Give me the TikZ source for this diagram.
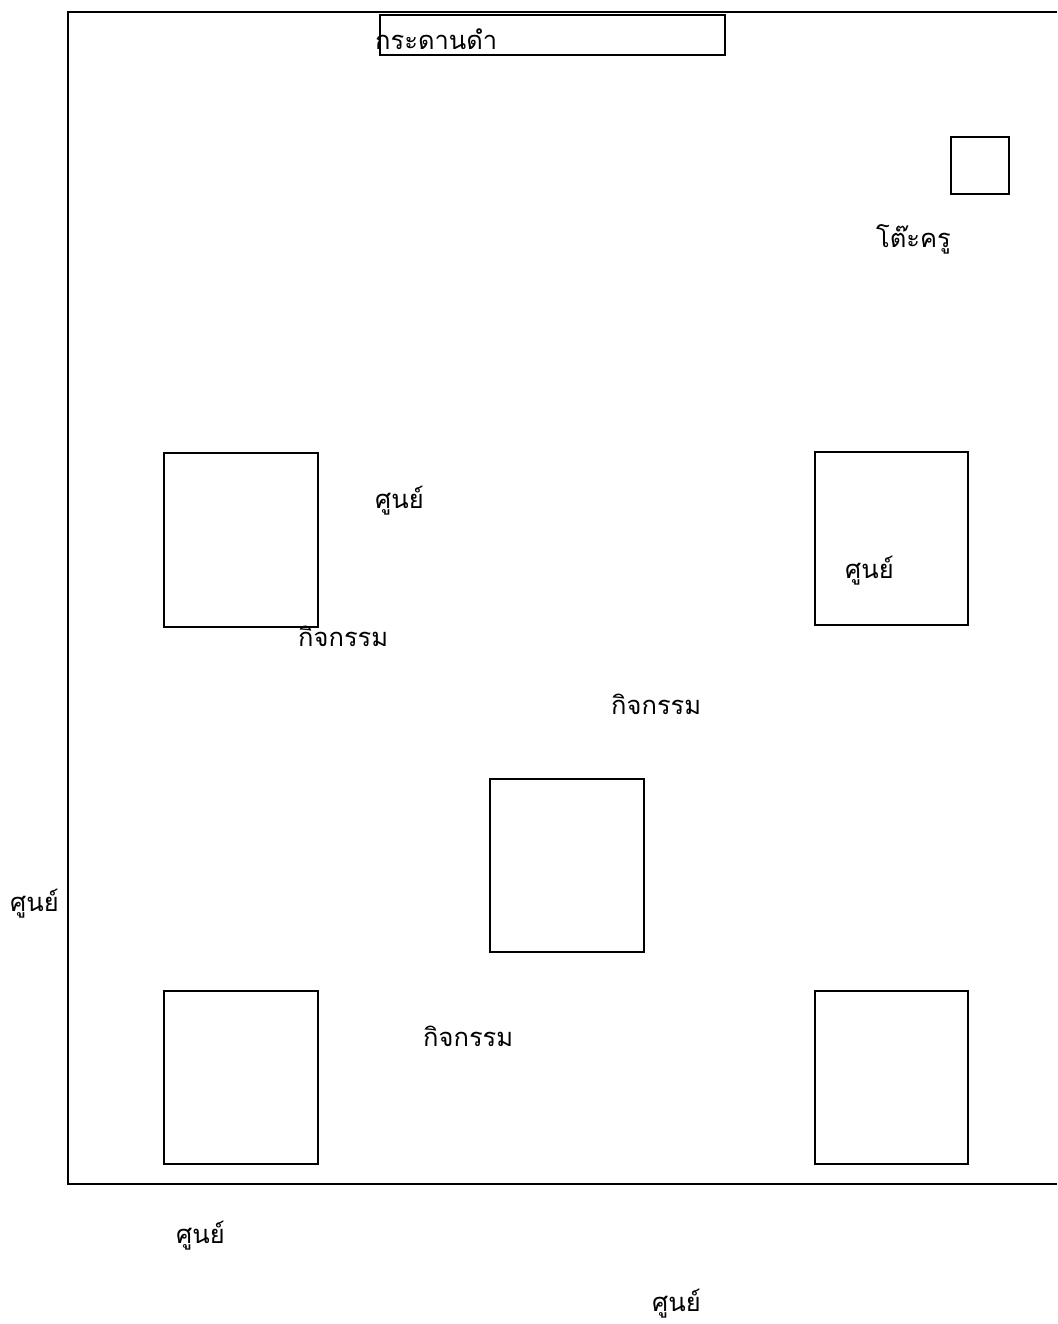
\documentclass[tikz,border=0pt]{standalone}
\usepackage{fontspec}
\newfontfamily\thaifont[Script=Thai]{Loma}
\begin{document}
\begin{tikzpicture}[x=1pt,y=-1pt,
  box/.style={draw=black,line width=1.3pt},
  lbl/.style={anchor=west,inner sep=0pt,font=\thaifont\fontsize{25.5}{30}\selectfont}]
\useasboundingbox (0,0) rectangle (1057,1324);
% room outline (right side open / cut off)
\draw[line width=1.5pt] (1057,12) -- (68,12) -- (68,1184) -- (1057,1184);
% blackboard
\draw[box] (380,15) rectangle (725,55);
\node[lbl] (board) at (375,39) {กระดานดำ};
% teacher desk
\draw[box] (951,137) rectangle (1009,194);
\node[lbl] (desk) at (876,239) {โต๊ะครู};
% activity centre boxes
\draw[box] (164,453) rectangle (318,627);
\draw[box] (815,452) rectangle (968,625);
\draw[box] (490,779) rectangle (644,952);
\draw[box] (164,991) rectangle (318,1164);
\draw[box] (815,991) rectangle (968,1164);
% labels
\node[lbl] (s1) at (375,501) {ศูนย์};
\node[lbl] (s2) at (845,571) {ศูนย์};
\node[lbl] (k1) at (298,636) {กิจกรรม};
\node[lbl] (k2) at (611,704) {กิจกรรม};
\node[lbl] (s3) at (10,904) {ศูนย์};
\node[lbl] (k3) at (423,1036) {กิจกรรม};
\node[lbl] (s4) at (176,1236) {ศูนย์};
\node[lbl] (s5) at (652,1304) {ศูนย์};
\end{tikzpicture}
\end{document}
